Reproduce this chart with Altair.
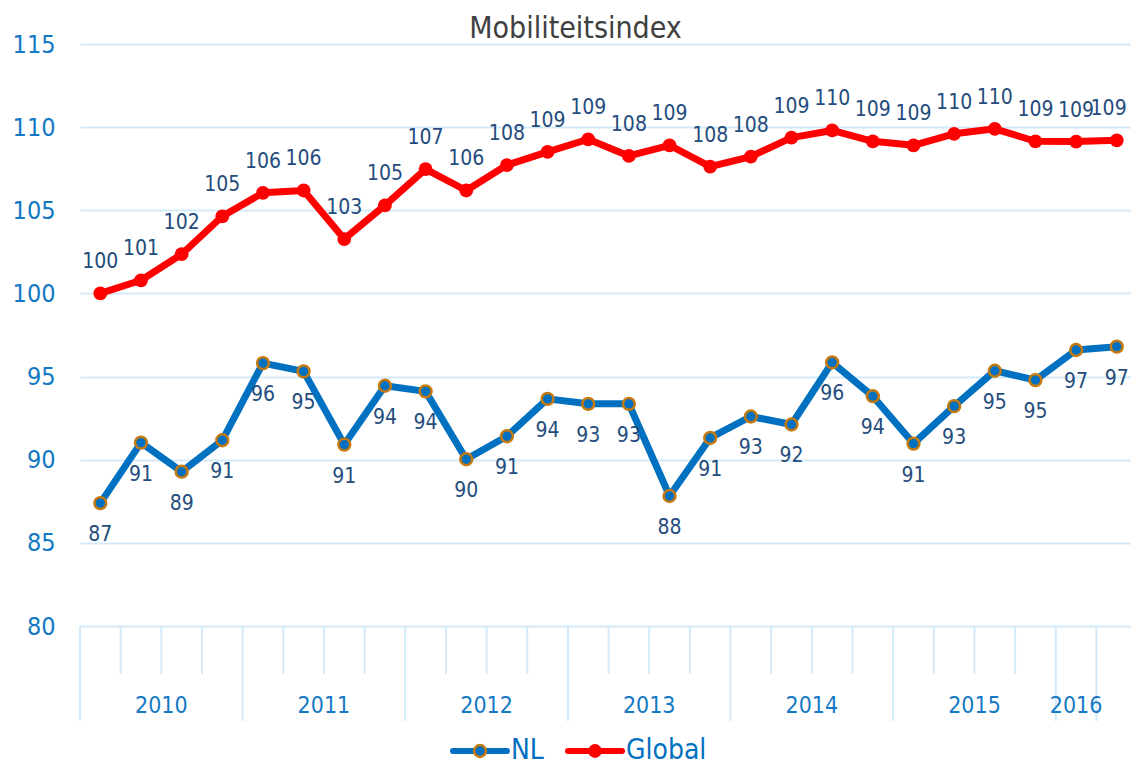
import altair as alt
import pandas as pd

# ---- data ----
quarters = [f"{y} Q{q}" for y in range(2010, 2017) for q in range(1, 5)][:26]
nl_values = [87.39, 91.03, 89.28, 91.17, 95.81, 95.31, 90.91, 94.45, 94.11, 90.03,
             91.41, 93.66, 93.36, 93.36, 87.82, 91.31, 92.60, 92.12, 95.85, 93.82,
             90.97, 93.22, 95.35, 94.79, 96.60, 96.80]
global_values = [100.00, 100.79, 102.36, 104.64, 106.05, 106.19, 103.27, 105.30, 107.48, 106.19,
                 107.72, 108.51, 109.27, 108.27, 108.91, 107.62, 108.23, 109.37, 109.80, 109.15,
                 108.91, 109.60, 109.90, 109.15, 109.13, 109.21]
year_labels = ["2010", "2011", "2012", "2013", "2014", "2015", "2016"]
year_spans = [4, 4, 4, 4, 4, 4, 1]          # category slots per year label as shown on the axis
series_names = ["NL", "Global"]
y_ticks = [80, 85, 90, 95, 100, 105, 110, 115]

n = len(quarters)
df = pd.DataFrame({
    "idx": list(range(n)) * 2,
    "quarter": quarters * 2,
    "value": nl_values + global_values,
    "series": ["NL"] * n + ["Global"] * n,
})

# separators between categories (short) and years (long)
year_bounds = [-0.5]
for s in year_spans:
    year_bounds.append(year_bounds[-1] + s)
sep_rows = []
for i in range(n):
    b = i - 0.5
    sep_rows.append({"pos": b, "kind": "long" if b in year_bounds else "short"})
sep_df = pd.DataFrame(sep_rows)
year_df = pd.DataFrame({
    "year": year_labels,
    "center": [(year_bounds[k] + year_bounds[k + 1]) / 2 for k in range(len(year_labels))],
})

# ---- style ----
FONT = "DejaVu Sans Condensed, DejaVu Sans, sans-serif"
W, H = 1051, 582
GRID = "#d3eafb"
AXIS_BLUE = "#1479c4"
LABEL_BLUE = "#244c7c"
NL_BLUE = "#0070c0"
NL_EDGE = "#c57a10"
RED = "#ff0000"

xscale = alt.Scale(domain=[-0.5, 25.35], nice=False, zero=False)
yscale = alt.Scale(domain=[80, 115], nice=False, zero=False)
x_enc = alt.X("idx:Q", scale=xscale, axis=None)
y_enc = alt.Y("value:Q", scale=yscale, title=None,
              axis=alt.Axis(values=y_ticks, grid=True, gridColor=GRID, gridWidth=2,
                            domain=False, ticks=False, labelPadding=25, labelFontSize=25,
                            labelColor=AXIS_BLUE, labelFont=FONT))

base = alt.Chart(df)

sep_short = alt.Chart(sep_df).transform_filter("datum.kind == 'short'").mark_rule(
    color=GRID, strokeWidth=2).encode(
    x=alt.X("pos:Q", scale=xscale, axis=None), y=alt.value(H), y2=alt.value(H + 48))
sep_long = alt.Chart(sep_df).transform_filter("datum.kind == 'long'").mark_rule(
    color=GRID, strokeWidth=2).encode(
    x=alt.X("pos:Q", scale=xscale, axis=None), y=alt.value(H), y2=alt.value(H + 95))
years = alt.Chart(year_df).mark_text(font=FONT, fontSize=23, color=AXIS_BLUE,
                                      baseline="middle").encode(
    x=alt.X("center:Q", scale=xscale, axis=None), y=alt.value(H + 80), text="year:N")

nl = base.transform_filter("datum.series == 'NL'")
gl = base.transform_filter("datum.series == 'Global'")

nl_line = nl.mark_line(color=NL_BLUE, strokeWidth=7, strokeJoin="round").encode(x=x_enc, y=y_enc)
nl_pts = nl.mark_point(shape="circle", filled=True, fill=NL_BLUE, stroke=NL_EDGE,
                       strokeWidth=2.5, size=140, opacity=1).encode(x=x_enc, y=y_enc)
nl_txt = nl.mark_text(font=FONT, fontSize=21, color=LABEL_BLUE, dy=32,
                      baseline="middle").encode(
    x=x_enc, y=y_enc, text=alt.Text("value:Q", format=".0f"))

gl_line = gl.mark_line(color=RED, strokeWidth=7, strokeJoin="round").encode(x=x_enc, y=y_enc)
gl_pts = gl.mark_point(shape="circle", filled=True, fill=RED, size=190,
                       opacity=1).encode(x=x_enc, y=y_enc)
# the last label is nudged left so it stays inside the chart, as in the reference
gl_txt = gl.transform_calculate(lx="datum.idx >= 25 ? datum.idx - 0.2 : datum.idx").mark_text(
    font=FONT, fontSize=21, color=LABEL_BLUE, dy=-31, baseline="middle").encode(
    x=alt.X("lx:Q", scale=xscale, axis=None), y=y_enc,
    text=alt.Text("value:Q", format=".0f"))

# ---- custom legend (line + marker + name) ----
LEG_Y = H + 125
def legend_item(name, x0, color, fill, stroke, size):
    d = alt.Data(values=[{"series": name}])
    line = alt.Chart(d).mark_rule(color=color, strokeWidth=6, strokeCap="round").encode(
        x=alt.value(x0), x2=alt.value(x0 + 54), y=alt.value(LEG_Y))
    dot = alt.Chart(d).mark_point(shape="circle", filled=True, fill=fill,
                                  stroke=stroke if stroke else fill,
                                  strokeWidth=2.5 if stroke else 0, size=size, opacity=1).encode(
        x=alt.value(x0 + 27), y=alt.value(LEG_Y))
    txt = alt.Chart(d).mark_text(font=FONT, fontSize=28, color=NL_BLUE, align="left",
                                 baseline="middle").encode(
        x=alt.value(x0 + 58), y=alt.value(LEG_Y), text="series:N")
    return [line, dot, txt]

legend_layers = (legend_item("NL", 373, NL_BLUE, NL_BLUE, NL_EDGE, 140)
                 + legend_item("Global", 488, RED, RED, None, 190))

chart = alt.layer(
    sep_short, sep_long, years,
    nl_line, nl_pts, gl_line, gl_pts, nl_txt, gl_txt,
    *legend_layers,
).properties(
    width=W, height=H,
    title=alt.TitleParams("Mobiliteitsindex", font=FONT, fontSize=30, fontWeight="normal",
                          color="#404040", anchor="middle", dx=-30, dy=18, offset=6),
    padding={"left": 72, "top": 36, "right": 0, "bottom": 139},
    autosize=alt.AutoSizeParams(type="none"),
    background="white",
).configure_view(stroke=None)

chart.save("out.html", embed_options={"renderer": "svg", "actions": False})
